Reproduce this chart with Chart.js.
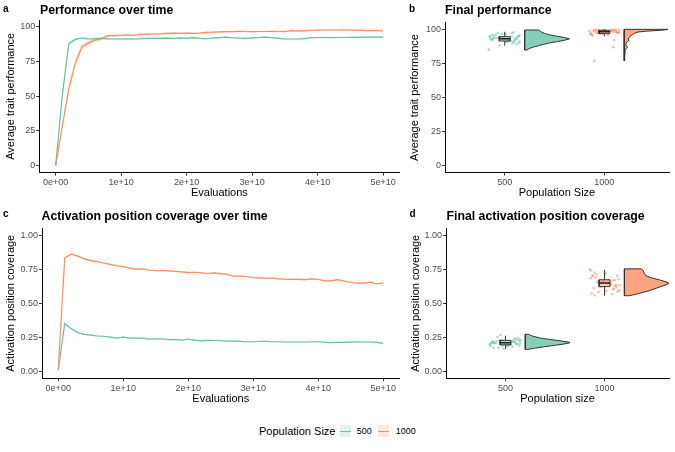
<!DOCTYPE html>
<html>
<head>
<meta charset="utf-8">
<script src="https://cdn.jsdelivr.net/npm/chart.js@4.4.1/dist/chart.umd.min.js"></script>
<style>
  body { margin: 0; background: #fff; font-family: "Liberation Sans", Arial, Helvetica, sans-serif; }
  #wrap { position: relative; width: 675px; height: 452px; overflow: hidden; }
  canvas { position: absolute; }
  .tag { position: absolute; font-weight: bold; font-size: 10px; line-height: 10px; color: #000; }
  .ttl { position: absolute; font-weight: bold; font-size: 12.3px; line-height: 12px; color: #000; white-space: nowrap; }
  .leg { position: absolute; color: #000; white-space: nowrap; }
  .key { position: absolute; width: 11px; height: 12px; }
  .key span { position: absolute; left: 0; right: 0; top: 5.5px; height: 1.2px; }
</style>
</head>
<body>
<div id="wrap">
  <canvas id="chartA" width="405" height="200" style="left:0;top:0"></canvas>
  <canvas id="chartB" width="275" height="200" style="left:400px;top:0"></canvas>
  <canvas id="chartC" width="405" height="206" style="left:0;top:200px"></canvas>
  <canvas id="chartD" width="275" height="206" style="left:400px;top:200px"></canvas>

  <div class="tag" style="left:3px;top:3.5px">a</div>
  <div class="ttl" style="left:40px;top:4.2px">Performance over time</div>
  <div class="tag" style="left:409px;top:3.5px">b</div>
  <div class="ttl" style="left:445px;top:4.2px">Final performance</div>
  <div class="tag" style="left:3px;top:208.5px">c</div>
  <div class="ttl" style="left:41.5px;top:209.7px">Activation position coverage over time</div>
  <div class="tag" style="left:409.5px;top:208.5px">d</div>
  <div class="ttl" style="left:446.5px;top:209.7px">Final activation position coverage</div>

  <div class="leg" style="left:259px;top:425.7px;font-size:11px;line-height:11px">Population Size</div>
  <div class="key" style="left:340px;top:425px;background:rgba(102,194,165,0.2)"><span style="background:#66C2A5"></span></div>
  <div class="leg" style="left:356.7px;top:427.4px;font-size:9px;line-height:9px">500</div>
  <div class="key" style="left:378.3px;top:425px;background:rgba(252,141,98,0.2)"><span style="background:#FC8D62"></span></div>
  <div class="leg" style="left:395.7px;top:427.4px;font-size:9px;line-height:9px">1000</div>
</div>

<script>
// evaluation steps (in units of 1e9 evaluations)
const STEP = 1e9;
const evalSteps = [0, 1, 2, 3, 4, 5, 6, 7, 8, 9, 10, 11, 12, 13, 14, 15, 16, 17, 18, 19, 20,
  21, 22, 23, 24, 25, 26, 27, 28, 29, 30, 31, 32, 33, 34, 35, 36, 37, 38, 39, 40,
  41, 42, 43, 44, 45, 46, 47, 48, 49, 50];

const xTickVals = [0, 1e10, 2e10, 3e10, 4e10, 5e10];
const xTickLabels = ['0e+00', '1e+10', '2e+10', '3e+10', '4e+10', '5e+10'];
const perfTicks = [0, 25, 50, 75, 100];
const covTicks = [0, 0.25, 0.5, 0.75, 1];
const popSizes = ['500', '1000'];
const popPos = [1, 2];

// panel a: average trait performance over time
const perf500 = [0, 50, 88, 91, 92, 91.3, 91.6, 91.8, 91.3, 91.3, 91.3, 91.4, 91.3, 91.5, 91.8, 91.8, 91.8,
  91.9, 91.8, 92.1, 91.8, 92.3, 91.8, 91.5, 91.9, 92.3, 92.6, 92.2, 91.9, 91.8, 92.1, 92.4, 92.6, 92.3,
  91.8, 91.3, 91.3, 91.3, 91.6, 92.3, 92.4, 92.4, 92.3, 92.4, 92.4, 92.5, 92.5, 92.6, 92.6, 92.6, 92.6];
const perf1000 = [0, 28, 55, 74, 85.5, 88.5, 90.5, 91.5, 93.7, 93.8, 94, 94.2, 94, 94.6, 94.8, 94.9, 95,
  95.3, 95.5, 95.4, 95.6, 95.4, 95.5, 96.1, 96.2, 96.5, 96.6, 96.6, 96.8, 96.7, 96.6, 96.7, 96.7, 96.8,
  96.7, 96.6, 97.3, 97.1, 97.2, 97.6, 97.7, 97.8, 97.8, 97.8, 97.9, 97.8, 97.7, 97.5, 97.3, 97.4, 97.2];
const perfSe500 = [0, 3, 1.5, 0.9, 0.7, 0.6, 0.6, 0.6, 0.6, 0.6, 0.6, 0.6, 0.6, 0.6, 0.6, 0.6, 0.6,
  0.6, 0.6, 0.6, 0.6, 0.6, 0.6, 0.6, 0.6, 0.6, 0.6, 0.6, 0.6, 0.6, 0.6, 0.6, 0.6, 0.6,
  0.6, 0.6, 0.6, 0.6, 0.6, 0.6, 0.6, 0.6, 0.6, 0.6, 0.6, 0.6, 0.6, 0.6, 0.6, 0.6, 0.6];
const perfSe1000 = [0, 2, 2.5, 2.5, 2.2, 1.8, 1.5, 1.2, 1, 0.9, 0.9, 0.8, 0.8, 0.8, 0.7, 0.7, 0.7,
  0.7, 0.7, 0.7, 0.6, 0.6, 0.6, 0.6, 0.6, 0.6, 0.6, 0.6, 0.6, 0.6, 0.6, 0.6, 0.6, 0.6,
  0.6, 0.6, 0.6, 0.6, 0.6, 0.6, 0.6, 0.6, 0.6, 0.6, 0.6, 0.6, 0.6, 0.6, 0.6, 0.6, 0.6];

// panel c: activation position coverage over time
const cov500 = [0.01, 0.35, 0.314, 0.285, 0.272, 0.267, 0.26, 0.258, 0.252, 0.244, 0.252, 0.244, 0.245,
  0.244, 0.237, 0.24, 0.239, 0.234, 0.233, 0.23, 0.236, 0.23, 0.224, 0.228, 0.227, 0.225, 0.223, 0.223,
  0.221, 0.218, 0.218, 0.22, 0.22, 0.218, 0.218, 0.216, 0.216, 0.216, 0.216, 0.218, 0.218, 0.213, 0.211,
  0.213, 0.213, 0.215, 0.218, 0.216, 0.216, 0.213, 0.206];
const cov1000 = [0.01, 0.833, 0.86, 0.845, 0.825, 0.812, 0.805, 0.795, 0.785, 0.775, 0.768, 0.758, 0.75,
  0.752, 0.742, 0.738, 0.74, 0.737, 0.733, 0.73, 0.725, 0.727, 0.723, 0.718, 0.722, 0.717, 0.712, 0.698,
  0.699, 0.696, 0.688, 0.686, 0.682, 0.685, 0.679, 0.676, 0.675, 0.675, 0.673, 0.678, 0.676, 0.664, 0.664,
  0.673, 0.662, 0.654, 0.648, 0.647, 0.655, 0.641, 0.649];
const covSe500 = [0, 0.008, 0.005, 0.004, 0.004, 0.004, 0.004, 0.004, 0.004, 0.004, 0.004, 0.004, 0.004,
  0.004, 0.004, 0.004, 0.004, 0.004, 0.004, 0.004, 0.004, 0.004, 0.004, 0.004, 0.004, 0.004, 0.004, 0.004,
  0.004, 0.004, 0.004, 0.004, 0.004, 0.004, 0.004, 0.004, 0.004, 0.004, 0.004, 0.004, 0.004, 0.004, 0.004,
  0.004, 0.004, 0.004, 0.004, 0.004, 0.004, 0.004, 0.004];
const covSe1000 = [0, 0.01, 0.007, 0.006, 0.006, 0.006, 0.006, 0.006, 0.006, 0.006, 0.006, 0.006, 0.006,
  0.006, 0.006, 0.006, 0.006, 0.006, 0.006, 0.006, 0.006, 0.006, 0.006, 0.006, 0.006, 0.006, 0.006, 0.006,
  0.006, 0.006, 0.006, 0.006, 0.006, 0.006, 0.006, 0.006, 0.006, 0.006, 0.006, 0.006, 0.006, 0.006, 0.006,
  0.006, 0.006, 0.006, 0.006, 0.006, 0.006, 0.006, 0.006];

// jitter offsets for the rain points
const jitter500 = [-0.12, 0.05, 0.14, -0.03, 0.10, -0.15, 0.08, -0.07, 0.12, -0.10, 0.02, 0.15, -0.13, 0.07,
  -0.05, 0.11, -0.09, 0.03, 0.13, -0.14, -0.16, 0.09, -0.02, 0.06, -0.11, 0.14, -0.06, 0.10, 0.01, -0.08,
  0.12, -0.13, 0.04, -0.04, 0.15, -0.12, 0.07, -0.01, 0.09, -0.15];
const jitter1000 = [0.03, -0.11, 0.13, -0.06, 0.08, -0.14, 0.11, -0.02, 0.15, -0.09, 0.05, -0.13, 0.01, 0.12,
  -0.07, 0.09, -0.15, 0.04, -0.04, 0.14, -0.10, 0.07, -0.12, 0.10, -0.01, 0.13, -0.08, 0.06, 0.10, 0.09,
  -0.10, -0.05, 0.12, -0.14, 0.02, -0.03, 0.15, -0.12, 0.08, -0.07];

// panel b: final performance
const finalPerf500 = [93.1, 92.4, 95.0, 96.8, 91.2, 94.3, 89.7, 97.4, 92.9, 93.8, 90.6, 95.7, 92.1, 94.9, 88.3,
  93.4, 96.1, 91.8, 94.6, 92.7, 85.1, 97.9, 93.0, 91.5, 95.3, 90.2, 94.1, 92.5, 96.5, 93.6, 89.1, 95.9, 92.2,
  94.4, 91.0, 93.3, 97.1, 92.8, 90.9, 94.8];
const finalPerf1000 = [98.5, 99.2, 97.6, 99.8, 98.9, 96.4, 99.5, 98.1, 97.9, 99.9, 98.7, 96.9, 99.3, 98.3, 97.2,
  99.6, 98.8, 95.8, 99.1, 97.4, 98.6, 99.7, 96.1, 98.2, 99.4, 97.7, 98.0, 99.0, 92.2, 86.8, 77.0, 98.4, 99.5,
  97.0, 98.9, 96.7, 99.8, 95.2, 98.1, 99.3];
// box stats: lower whisker, q1, median, q3, upper whisker
const perfBox500 = [88.0, 91.4, 93.0, 94.6, 98.2];
const perfBox1000 = [94.8, 96.8, 98.2, 99.3, 100];
// half-violin outline: values and widths (x units)
const perfViolin500Y = [84.8, 86, 87, 88, 89, 90, 91, 92, 93, 94, 95, 96, 97, 98, 99.5];
const perfViolin500W = [0.02, 0.05, 0.09, 0.14, 0.19, 0.25, 0.33, 0.40, 0.45, 0.40, 0.32, 0.25, 0.20, 0.17, 0.14];
const perfViolin1000Y = [77, 80, 85, 86, 87, 88, 89, 90, 91, 92, 93, 94, 95, 96, 97, 98, 98.5, 99, 99.5, 100];
const perfViolin1000W = [0.005, 0.006, 0.01, 0.02, 0.035, 0.02, 0.015, 0.02, 0.03, 0.05, 0.04, 0.05, 0.06, 0.08,
  0.10, 0.14, 0.20, 0.30, 0.40, 0.44];

// panel d: final activation position coverage
const finalCov500 = [0.212, 0.198, 0.225, 0.187, 0.241, 0.205, 0.219, 0.176, 0.233, 0.209, 0.194, 0.228, 0.215,
  0.181, 0.268, 0.202, 0.222, 0.190, 0.247, 0.211, 0.199, 0.236, 0.165, 0.218, 0.206, 0.192, 0.229, 0.214,
  0.184, 0.252, 0.203, 0.220, 0.196, 0.231, 0.208, 0.173, 0.225, 0.201, 0.216, 0.189];
const finalCov1000 = [0.648, 0.612, 0.701, 0.583, 0.667, 0.739, 0.626, 0.655, 0.594, 0.689, 0.641, 0.571, 0.718,
  0.633, 0.662, 0.605, 0.748, 0.652, 0.619, 0.676, 0.558, 0.643, 0.697, 0.628, 0.661, 0.587, 0.712, 0.637,
  0.669, 0.601, 0.725, 0.646, 0.615, 0.683, 0.592, 0.657, 0.631, 0.705, 0.566, 0.651];
const covBox500 = [0.165, 0.195, 0.210, 0.228, 0.262];
const covBox1000 = [0.555, 0.622, 0.648, 0.672, 0.745];
const covViolin500Y = [0.161, 0.17, 0.18, 0.19, 0.20, 0.21, 0.215, 0.225, 0.235, 0.245, 0.26, 0.273];
const covViolin500W = [0.02, 0.09, 0.18, 0.28, 0.38, 0.45, 0.44, 0.35, 0.25, 0.15, 0.07, 0.03];
const covViolin1000Y = [0.555, 0.57, 0.59, 0.61, 0.63, 0.645, 0.655, 0.67, 0.685, 0.70, 0.72, 0.74, 0.752];
const covViolin1000W = [0.05, 0.14, 0.24, 0.32, 0.40, 0.45, 0.43, 0.36, 0.28, 0.22, 0.20, 0.19, 0.17];

const GREEN = '102,194,165';
const ORANGE = '252,141,98';

Chart.defaults.font.family = '"Liberation Sans", Arial, Helvetica, sans-serif';
Chart.defaults.color = '#4d4d4d';

function makeScales(c) {
  return {
    x: {
      type: 'linear', min: c.xMin, max: c.xMax, bounds: 'data',
      afterBuildTicks: function (s) { s.ticks = c.xTicks.map(function (v) { return { value: v }; }); },
      afterFit: function (s) { s.height = c.xHeight; },
      ticks: { autoSkip: false, maxRotation: 0, padding: 2, color: '#4d4d4d', font: { size: 9 },
        callback: function (v) { return c.xLabels[c.xTicks.indexOf(v)]; } },
      grid: { drawOnChartArea: false, tickLength: 3, color: '#333' },
      border: { color: '#000', width: 1 },
      title: { display: true, text: c.xTitle, color: '#000', font: { size: 11 }, padding: 0 }
    },
    y: {
      type: 'linear', min: c.yMin, max: c.yMax, bounds: 'data',
      afterBuildTicks: function (s) { s.ticks = c.yTicks.map(function (v) { return { value: v }; }); },
      afterFit: function (s) { s.width = c.yWidth; },
      ticks: { autoSkip: false, padding: 1, color: '#4d4d4d', font: { size: 9 }, callback: c.yLabel },
      grid: { drawOnChartArea: false, tickLength: 3, color: '#333' },
      border: { color: '#000', width: 1 },
      title: { display: true, text: c.yTitle, color: '#000', font: { size: 11 }, padding: { top: c.yTitlePad, bottom: 0 } }
    }
  };
}

function baseOptions(padding, scales) {
  return {
    responsive: false,
    animation: false,
    layout: { padding: padding },
    plugins: { legend: { display: false }, tooltip: { enabled: false } },
    scales: scales
  };
}

// line with ribbon (mean +/- se)
function timeSeries(values, se, col) {
  const pts = function (sign) {
    return evalSteps.map(function (s, i) { return { x: s * STEP, y: values[i] + sign * se[i] }; });
  };
  return [
    { data: pts(-1), borderColor: 'transparent', borderWidth: 0, pointRadius: 0, fill: false, order: 10 },
    { data: pts(1), borderColor: 'transparent', borderWidth: 0, pointRadius: 0, fill: '-1',
      backgroundColor: 'rgba(' + col + ',0.25)', order: 10 }
  ];
}
function meanLine(values, col, order) {
  return { data: evalSteps.map(function (s, i) { return { x: s * STEP, y: values[i] }; }),
    borderColor: 'rgb(' + col + ')', borderWidth: 1.2, pointRadius: 0, fill: false, order: order };
}

// raincloud pieces: jittered points, box plot, half violin
function raincloud(pos, values, jit, box, vY, vW, col) {
  const bw = 0.055;
  const vx = pos + 0.2;
  const sets = [];
  sets.push({ data: values.map(function (v, i) { return { x: pos + jit[i], y: v }; }), showLine: false,
    pointRadius: 1.3, pointBorderWidth: 0, pointBackgroundColor: 'rgba(' + col + ',0.55)', order: 5 });
  sets.push({ data: [{ x: pos, y: box[0] }, { x: pos, y: box[1] }, { x: null, y: null }, { x: pos, y: box[3] }, { x: pos, y: box[4] }],
    borderColor: '#333', borderWidth: 1, pointRadius: 0, spanGaps: false, fill: false, order: 4 });
  sets.push({ data: [{ x: pos - bw, y: box[1] }, { x: pos + bw, y: box[1] }, { x: pos + bw, y: box[3] },
    { x: pos - bw, y: box[3] }, { x: pos - bw, y: box[1] }],
    borderColor: '#333', borderWidth: 1, pointRadius: 0, fill: 'shape', backgroundColor: 'rgba(' + col + ',0.5)', order: 3 });
  sets.push({ data: [{ x: pos - bw, y: box[2] }, { x: pos + bw, y: box[2] }],
    borderColor: '#222', borderWidth: 1.5, pointRadius: 0, fill: false, order: 2 });
  const outline = [{ x: vx, y: vY[0] }];
  vY.forEach(function (v, i) { outline.push({ x: vx + vW[i], y: v }); });
  outline.push({ x: vx, y: vY[vY.length - 1] });
  outline.push({ x: vx, y: vY[0] });
  sets.push({ data: outline, borderColor: '#333', borderWidth: 1, pointRadius: 0, fill: 'shape',
    backgroundColor: 'rgba(' + col + ',0.8)', order: 1 });
  return sets;
}

const evalAxis = { xMin: -0.25e10, xMax: 5.25e10, xTicks: xTickVals, xLabels: xTickLabels, xTitle: 'Evaluations' };
const popAxis = { xMin: 0.4, xMax: 2.65, xTicks: popPos, xLabels: popSizes };
function fmtPerf(v) { return String(v); }
function fmtCov(v) { return v.toFixed(2); }

// a
new Chart(document.getElementById('chartA'), {
  type: 'line',
  data: { datasets: [].concat(timeSeries(perf500, perfSe500, GREEN), timeSeries(perf1000, perfSe1000, ORANGE),
    [meanLine(perf500, GREEN, 2), meanLine(perf1000, ORANGE, 1)]) },
  options: baseOptions({ top: 20, right: 5.5, bottom: 0, left: 0 }, makeScales(Object.assign({}, evalAxis, {
    yMin: -5, yMax: 105, yTicks: perfTicks, yLabel: fmtPerf, yTitle: 'Average trait performance',
    yWidth: 39.3, xHeight: 27.4, yTitlePad: 4 })))
});

// b
new Chart(document.getElementById('chartB'), {
  type: 'line',
  data: { datasets: [].concat(
    raincloud(popPos[0], finalPerf500, jitter500, perfBox500, perfViolin500Y, perfViolin500W, GREEN),
    raincloud(popPos[1], finalPerf1000, jitter1000, perfBox1000, perfViolin1000Y, perfViolin1000W, ORANGE)) },
  options: baseOptions({ top: 22.5, right: 6, bottom: 0, left: 0 }, makeScales(Object.assign({}, popAxis, {
    xTitle: 'Population Size', yMin: -5, yMax: 105, yTicks: perfTicks, yLabel: fmtPerf,
    yTitle: 'Average trait performance', yWidth: 45, xHeight: 27.5, yTitlePad: 8.4 })))
});

// c
new Chart(document.getElementById('chartC'), {
  type: 'line',
  data: { datasets: [].concat(timeSeries(cov500, covSe500, GREEN), timeSeries(cov1000, covSe1000, ORANGE),
    [meanLine(cov500, GREEN, 2), meanLine(cov1000, ORANGE, 1)]) },
  options: baseOptions({ top: 28.2, right: 5.5, bottom: 0, left: 0 }, makeScales(Object.assign({}, evalAxis, {
    yMin: -0.05, yMax: 1.05, yTicks: covTicks, yLabel: fmtCov, yTitle: 'Activation position coverage',
    yWidth: 42, xHeight: 27.7, yTitlePad: 4 })))
});

// d
new Chart(document.getElementById('chartD'), {
  type: 'line',
  data: { datasets: [].concat(
    raincloud(popPos[0], finalCov500, jitter500, covBox500, covViolin500Y, covViolin500W, GREEN),
    raincloud(popPos[1], finalCov1000, jitter1000, covBox1000, covViolin1000Y, covViolin1000W, ORANGE)) },
  options: baseOptions({ top: 28.2, right: 6, bottom: 0, left: 0 }, makeScales(Object.assign({}, popAxis, {
    xTitle: 'Population size', yMin: -0.05, yMax: 1.05, yTicks: covTicks, yLabel: fmtCov,
    yTitle: 'Activation position coverage', yWidth: 46, xHeight: 27.7, yTitlePad: 9.2 })))
});
</script>
</body>
</html>
